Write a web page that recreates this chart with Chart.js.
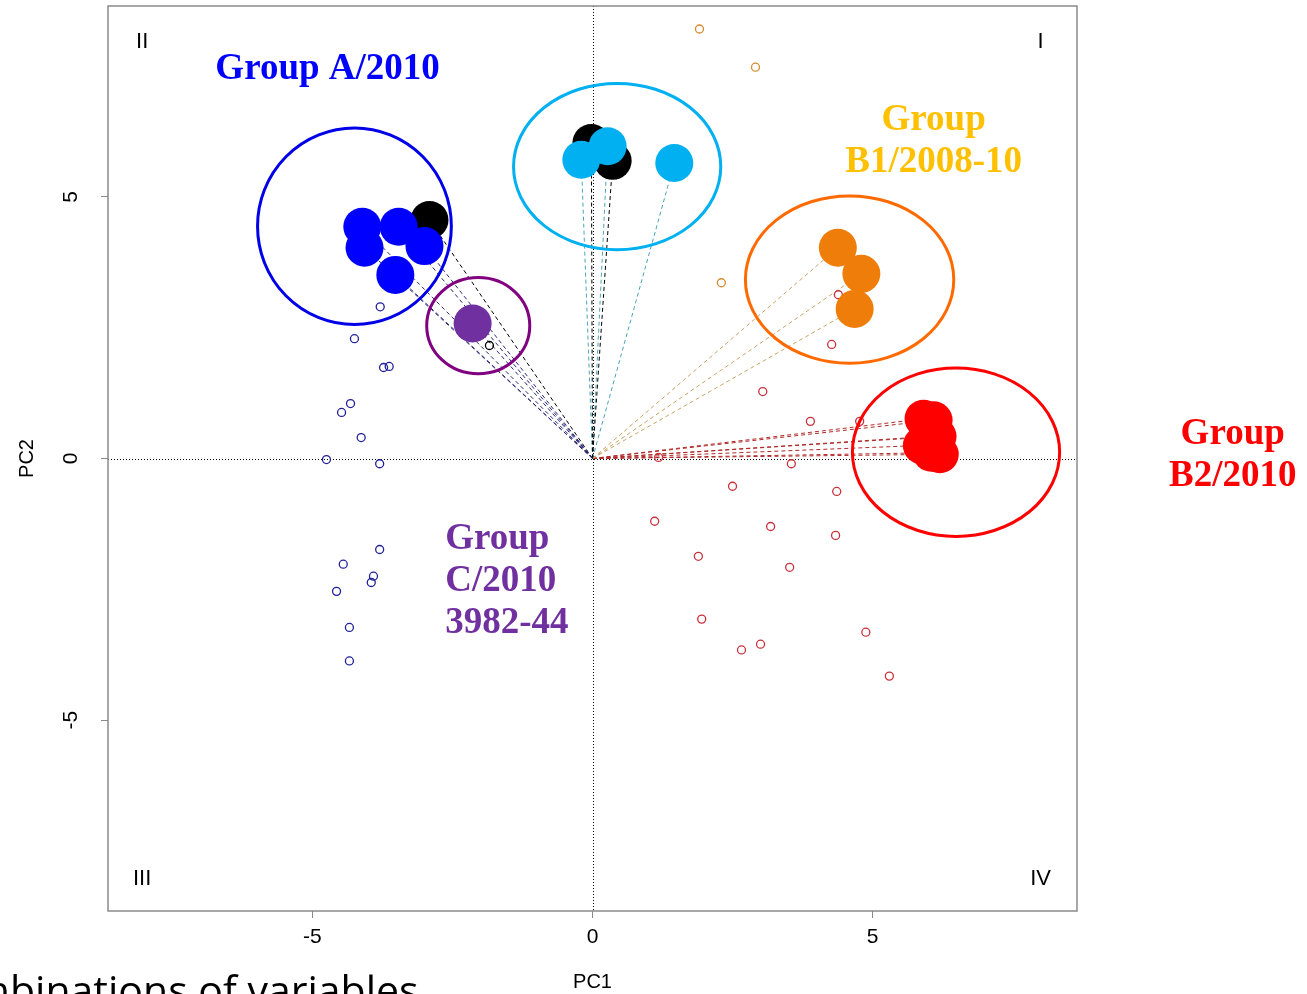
<!DOCTYPE html>
<html>
<head>
<meta charset="utf-8">
<script src="https://cdn.jsdelivr.net/npm/chart.js@4.4.0/dist/chart.umd.min.js"></script>
<style>
  body { margin: 0; background: #fff; }
  canvas { display: block; }
</style>
</head>
<body>
<canvas id="chart" width="1307" height="994"></canvas>
<script>
// PCA biplot: PC1 / PC2 scores
// big dots = group samples, small rings = remaining samples
var blueX = [-4.11, -3.46, -4.07, -3.00, -3.52];
var blueY = [4.43, 4.43, 4.03, 4.06, 3.51];
var cyanX = [-0.20, 0.27, 1.46];
var cyanY = [5.71, 5.97, 5.65];
var orangeX = [4.38, 4.80, 4.68];
var orangeY = [4.03, 3.53, 2.86];
var redX = [5.91, 6.09, 5.98, 6.16, 5.88, 6.05, 6.20];
var redY = [0.76, 0.73, 0.42, 0.42, 0.25, 0.11, 0.08];
var purpleX = [-2.14];
var purpleY = [2.58];
var blackX = [-2.91, -0.02, 0.36];
var blackY = [4.56, 6.03, 5.69];

var smallBlueX = [-3.79, -4.25, -3.73, -3.63, -4.32, -4.48, -4.13, -4.75, -3.80, -3.80, -4.45, -3.91, -3.95, -4.57, -4.34, -4.34];
var smallBlueY = [2.90, 2.29, 1.74, 1.76, 1.05, 0.88, 0.40, -0.02, -0.10, -1.74, -2.02, -2.25, -2.37, -2.54, -3.23, -3.87];
var smallRedX = [3.04, 3.89, 4.77, 1.18, 3.55, 2.50, 4.36, 1.11, 3.18, 4.34, 1.89, 3.52, 1.95, 3.00, 2.66, 4.88, 5.30, 4.39, 4.27];
var smallRedY = [1.28, 0.71, 0.71, 0.02, -0.10, -0.53, -0.63, -1.20, -1.30, -1.47, -1.87, -2.08, -3.07, -3.55, -3.66, -3.32, -4.16, 3.13, 2.18];
var smallOrangeX = [1.91, 2.91, 2.30];
var smallOrangeY = [8.21, 7.48, 3.36];
var smallBlackX = [-1.84];
var smallBlackY = [2.16];

var tickValues = [-5, 0, 5];

// group ellipses: centre and radii in PC units
var ellipseX = [-4.25, 0.44, 4.59, 6.49, -2.04];
var ellipseY = [4.44, 5.58, 3.42, 0.12, 2.54];
var ellipseRX = [1.73, 1.85, 1.86, 1.85, 0.92];
var ellipseRY = [1.88, 1.59, 1.60, 1.61, 0.92];
var ellipseColors = ['#0000e8', '#00b0f0', '#ff6a00', '#ff0000', '#800080'];

var groupLabels = [
  { lines: ['Group A/2010'], x: -4.73, y: 7.44, align: 'center', color: '#0000ff' },
  { lines: ['Group', 'B1/2008-10'], x: 6.09, y: 6.47, align: 'center', color: '#ffc000' },
  { lines: ['Group', 'B2/2010'], x: 11.43, y: 0.46, align: 'center', color: '#ff0000' },
  { lines: ['Group', 'C/2010', '3982-44'], x: -2.63, y: -1.55, align: 'left', color: '#7030a0' }
];
var quadrants = [
  { text: 'II', x: -8.04, y: 7.96 },
  { text: 'I', x: 8.0, y: 7.96 },
  { text: 'III', x: -8.04, y: -8.03 },
  { text: 'IV', x: 8.0, y: -8.03 }
];

function pts(xs, ys) {
  return xs.map(function (x, i) { return { x: x, y: ys[i] }; });
}

function bigDots(xs, ys, color, order) {
  return {
    data: pts(xs, ys), order: order, showLine: false,
    pointRadius: 19, pointHoverRadius: 19,
    backgroundColor: color, borderColor: color, borderWidth: 0
  };
}

function rings(xs, ys, color) {
  return {
    data: pts(xs, ys), order: 3, showLine: false,
    pointRadius: 4, pointHoverRadius: 4,
    backgroundColor: 'rgba(0,0,0,0)', borderColor: color, borderWidth: 1.3
  };
}

// dashed loading vectors from the origin to each group sample
function vectors(xs, ys, color) {
  return xs.map(function (x, i) {
    return {
      data: [{ x: 0, y: 0 }, { x: x, y: ys[i] }], order: 5, showLine: true,
      pointRadius: 0, borderColor: color, borderWidth: 1, borderDash: [4, 3], fill: false
    };
  });
}

var datasets = [
  bigDots(blueX, blueY, '#0000ff', 1),
  bigDots(cyanX, cyanY, '#00b0f0', 1),
  bigDots(orangeX, orangeY, '#ee7d0a', 1),
  bigDots(redX, redY, '#ff0000', 1),
  bigDots(purpleX, purpleY, '#7030a0', 1),
  bigDots(blackX, blackY, '#000000', 2),
  rings(smallBlueX, smallBlueY, '#1f1f9a'),
  rings(smallRedX, smallRedY, '#c8303a'),
  rings(smallOrangeX, smallOrangeY, '#d48a2e'),
  rings(smallBlackX, smallBlackY, '#000000')
].concat(
  vectors(blueX, blueY, '#2a2a78'),
  vectors(purpleX, purpleY, '#2a2a78'),
  vectors(blackX, blackY, '#000000'),
  vectors(cyanX, cyanY, '#4aa3bb'),
  vectors(orangeX, orangeY, '#c9a468'),
  vectors(redX, redY, '#b02a2a')
);

var decor = {
  id: 'decor',
  beforeDatasetsDraw: function (chart) {
    var ctx = chart.ctx, a = chart.chartArea;
    var sx = chart.scales.x, sy = chart.scales.y;
    ctx.save();
    ctx.strokeStyle = '#000';
    ctx.lineWidth = 1;
    ctx.setLineDash([1, 2]);
    var x0 = Math.round(sx.getPixelForValue(0)) + 0.5;
    var y0 = Math.round(sy.getPixelForValue(0)) + 0.5;
    ctx.beginPath();
    ctx.moveTo(x0, a.top); ctx.lineTo(x0, a.bottom);
    ctx.moveTo(a.left, y0); ctx.lineTo(a.right, y0);
    ctx.stroke();
    ctx.restore();
  },
  afterDatasetsDraw: function (chart) {
    var ctx = chart.ctx, a = chart.chartArea;
    var sx = chart.scales.x, sy = chart.scales.y;
    ctx.save();
    // ellipses round each group
    ctx.lineWidth = 3;
    ellipseX.forEach(function (cx, i) {
      var px = sx.getPixelForValue(cx), py = sy.getPixelForValue(ellipseY[i]);
      var rx = Math.abs(sx.getPixelForValue(cx + ellipseRX[i]) - px);
      var ry = Math.abs(sy.getPixelForValue(ellipseY[i] + ellipseRY[i]) - py);
      ctx.strokeStyle = ellipseColors[i];
      ctx.beginPath();
      ctx.ellipse(px, py, rx, ry, 0, 0, Math.PI * 2);
      ctx.stroke();
    });
    // plot box
    ctx.strokeStyle = '#8a8a8a';
    ctx.lineWidth = 1.5;
    ctx.strokeRect(a.left, a.top, a.right - a.left, a.bottom - a.top);
    // quadrant numerals
    ctx.fillStyle = '#000';
    ctx.font = "22px 'Liberation Sans', Arial, sans-serif";
    ctx.textAlign = 'center';
    ctx.textBaseline = 'middle';
    quadrants.forEach(function (q) {
      ctx.fillText(q.text, sx.getPixelForValue(q.x), sy.getPixelForValue(q.y));
    });
    // group names
    ctx.font = "bold 37px 'Liberation Serif', 'Times New Roman', serif";
    groupLabels.forEach(function (g) {
      ctx.fillStyle = g.color;
      ctx.textAlign = g.align;
      var px = sx.getPixelForValue(g.x), py = sy.getPixelForValue(g.y);
      g.lines.forEach(function (t, k) {
        ctx.fillText(t, px, py + k * 42);
      });
    });
    ctx.restore();
  },
  afterDraw: function (chart) {
    var ctx = chart.ctx;
    ctx.save();
    ctx.font = "41px 'Open Sans', 'Noto Sans', sans-serif";
    ctx.fillStyle = '#000';
    ctx.textAlign = 'left';
    ctx.textBaseline = 'alphabetic';
    var lead = ctx.measureText('Com').width;
    ctx.fillText('Combinations of variables', 10 - lead, 1005);
    ctx.restore();
  }
};

Chart.defaults.font.family = "'Liberation Sans', Arial, sans-serif";
Chart.defaults.color = '#000';

new Chart(document.getElementById('chart').getContext('2d'), {
  type: 'scatter',
  data: { datasets: datasets },
  options: {
    responsive: false,
    animation: false,
    events: [],
    layout: { autoPadding: false, padding: { top: 6, right: 230, bottom: 0, left: 0 } },
    plugins: { legend: { display: false }, tooltip: { enabled: false } },
    scales: {
      x: {
        min: -8.65, max: 8.65,
        afterBuildTicks: function (s) { s.ticks = tickValues.map(function (v) { return { value: v }; }); },
        afterFit: function (s) { s.height = 83; s.paddingLeft = 0; s.paddingRight = 0; },
        grid: { drawOnChartArea: false, drawTicks: true, tickLength: 7, color: '#8a8a8a' },
        border: { display: false },
        ticks: { font: { size: 21 }, padding: 7, color: '#000' },
        title: { display: true, text: 'PC1', font: { size: 20 }, padding: { top: 0, bottom: 0 }, color: '#000' }
      },
      y: {
        min: -8.65, max: 8.65,
        afterBuildTicks: function (s) { s.ticks = tickValues.map(function (v) { return { value: v }; }); },
        afterFit: function (s) { s.width = 108; s.paddingTop = 0; s.paddingBottom = 0; },
        grid: { drawOnChartArea: false, drawTicks: true, tickLength: 7, color: '#8a8a8a' },
        border: { display: false },
        ticks: { font: { size: 21 }, padding: 20, minRotation: 90, maxRotation: 90, crossAlign: 'center', color: '#000' },
        title: { display: true, text: 'PC2', font: { size: 20 }, padding: { top: 15, bottom: 0 }, color: '#000' }
      }
    }
  },
  plugins: [decor]
});
</script>
</body>
</html>
